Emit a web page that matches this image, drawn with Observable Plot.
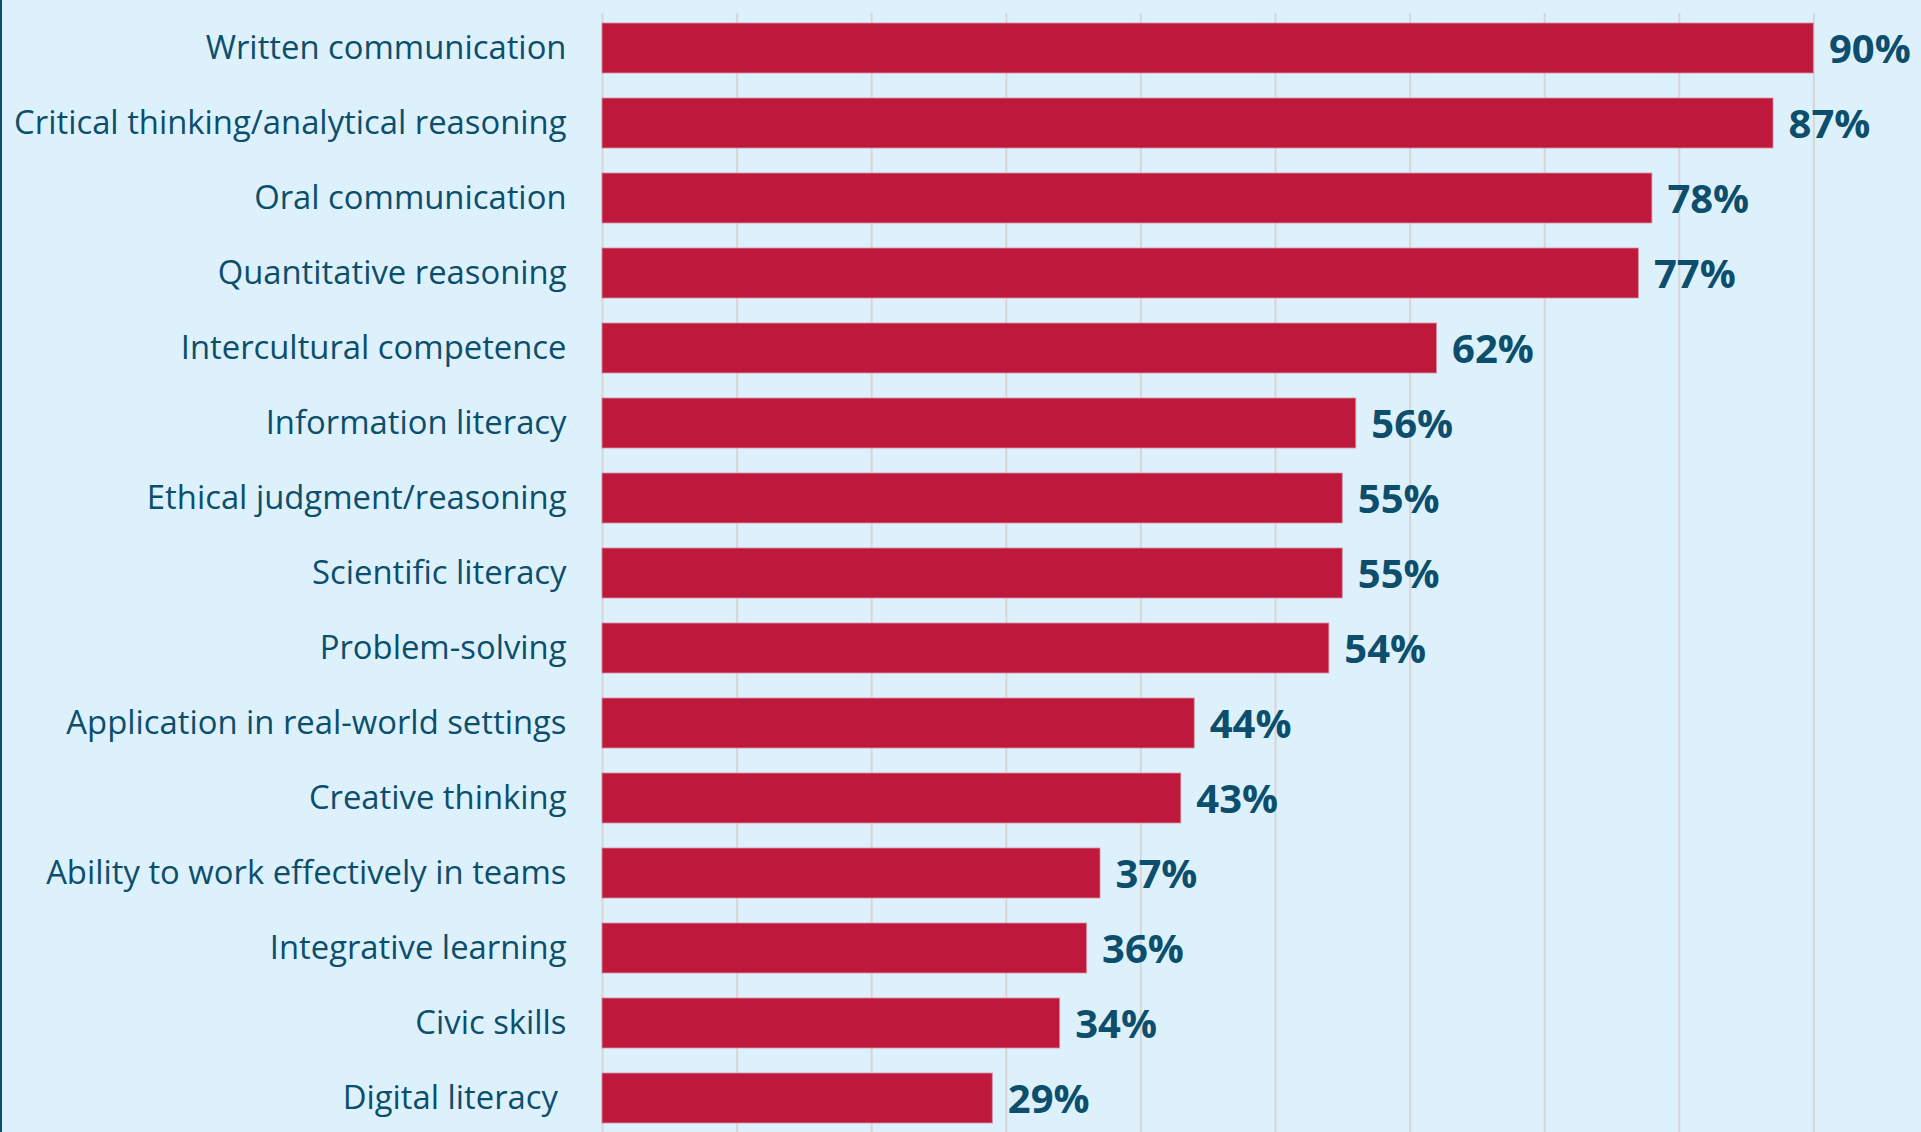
<!DOCTYPE html>
<html>
<head>
<meta charset="utf-8">
<script src="https://cdn.jsdelivr.net/npm/d3@7"></script>
<script src="https://cdn.jsdelivr.net/npm/@observablehq/plot@0.6"></script>
<style>
  html, body { margin: 0; padding: 0; background: #dcf1fc; overflow: hidden; }
  #wrap { position: relative; width: 1921px; height: 1132px; }
  #wrap::before { content: ""; position: absolute; left: 0; top: 0; bottom: 0; width: 2px; background: #0d4f6e; z-index: 2; }
  #wrap svg { display: block; }
</style>
</head>
<body>
<div id="wrap"></div>
<script>
const skills = [
  "Written communication",
  "Critical thinking/analytical reasoning",
  "Oral communication",
  "Quantitative reasoning",
  "Intercultural competence",
  "Information literacy",
  "Ethical judgment/reasoning",
  "Scientific literacy",
  "Problem-solving",
  "Application in real-world settings",
  "Creative thinking",
  "Ability to work effectively in teams",
  "Integrative learning",
  "Civic skills",
  "Digital literacy\u00a0"
];
const percents = [90, 87, 78, 77, 62, 56, 55, 55, 54, 44, 43, 37, 36, 34, 29];
const xTicks = [0, 10, 20, 30, 40, 50, 60, 70, 80, 90, 100];

const data = skills.map((s, i) => ({skill: s, value: percents[i]}));

const textColor = "#0c4e6c";

const chart = Plot.plot({
  width: 1921,
  height: 1132,
  marginLeft: 602,
  marginRight: -27,
  marginTop: 13,
  marginBottom: 0,
  style: {background: "transparent", fontFamily: "'Open Sans', sans-serif", overflow: "hidden"},
  x: {domain: [0, 100], axis: null},
  y: {domain: skills, paddingInner: 0.334, paddingOuter: 0.12, axis: null},
  marks: [
    Plot.gridX(xTicks, {stroke: "#d6d6d6", strokeOpacity: 1, strokeWidth: 2}),
    Plot.barX(data, {x: "value", y: "skill", fill: "#be193c", stroke: "#d98ea0", strokeWidth: 1, strokeOpacity: 0.8}),
    Plot.axisY({tickSize: 0, tickPadding: 36, fontSize: 32.8, fill: textColor, label: null}),
    Plot.text(data, {x: "value", y: "skill", text: d => d.value + "%", dx: 15, dy: 2, textAnchor: "start",
      fontWeight: "bold", fontSize: 40, fill: textColor})
  ]
});

document.getElementById("wrap").appendChild(chart);
</script>
</body>
</html>
